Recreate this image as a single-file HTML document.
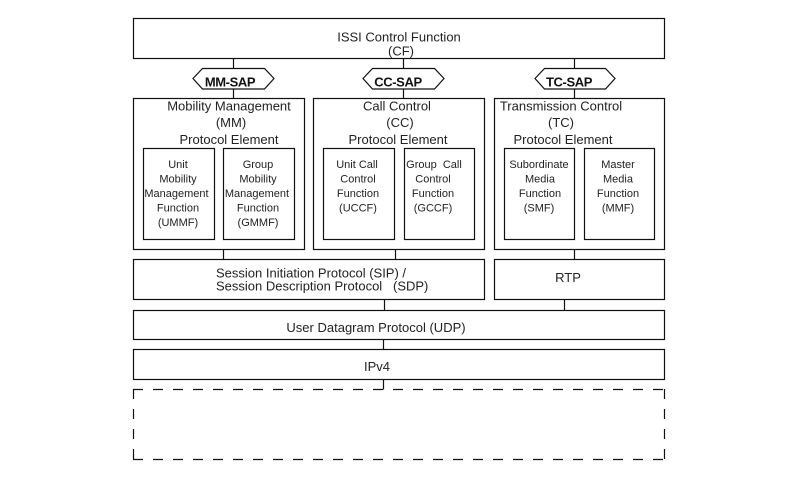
<!DOCTYPE html>
<html><head><meta charset="utf-8"><style>
html,body{margin:0;padding:0;background:#fff;}
svg{display:block;}
text{font-family:"Liberation Sans",Arial,sans-serif;fill:#222;}
.t13{font-size:13px;}
.t11{font-size:11px;}
.b{font-weight:bold;font-size:13px;fill:#111;}
</style></head><body>
<svg width="800" height="480" viewBox="0 0 800 480" xmlns="http://www.w3.org/2000/svg">
<g fill="none" stroke="#111" stroke-width="1.2">
  <!-- CF -->
  <rect x="133.5" y="18.5" width="531" height="40"/>
  <!-- connectors CF to SAPs -->
  <line x1="233.5" y1="58.5" x2="233.5" y2="68.5"/>
  <line x1="403.5" y1="58.5" x2="403.5" y2="68.5"/>
  <line x1="574.5" y1="58.5" x2="574.5" y2="68.5"/>
  <!-- hexagons -->
  <polygon points="193,78.5 202.5,68.5 264.5,68.5 274,78.5 264.5,89 202.5,89"/>
  <polygon points="363,78.5 372.5,68.5 434.5,68.5 444,78.5 434.5,89 372.5,89"/>
  <polygon points="535,78.5 544.5,68.5 605.5,68.5 615,78.5 605.5,89 544.5,89"/>
  <!-- SAP to boxes -->
  <line x1="233.5" y1="89" x2="233.5" y2="98.5"/>
  <line x1="403.5" y1="89" x2="403.5" y2="98.5"/>
  <line x1="574.5" y1="89" x2="574.5" y2="98.5"/>
  <!-- protocol element boxes -->
  <rect x="133.5" y="98.5" width="171" height="151"/>
  <rect x="313.5" y="98.5" width="171" height="151"/>
  <rect x="494.5" y="98.5" width="170" height="151"/>
  <!-- sub boxes -->
  <rect x="143.5" y="148.5" width="71" height="91"/>
  <rect x="223.5" y="148.5" width="71" height="91"/>
  <rect x="323.5" y="148.5" width="71" height="91"/>
  <rect x="404.5" y="148.5" width="70" height="91"/>
  <rect x="504.5" y="148.5" width="70" height="91"/>
  <rect x="584.5" y="148.5" width="70" height="91"/>
  <!-- connectors to SIP/RTP -->
  <line x1="223.5" y1="249.5" x2="223.5" y2="259.5"/>
  <line x1="395.5" y1="249.5" x2="395.5" y2="259.5"/>
  <line x1="574.5" y1="249.5" x2="574.5" y2="259.5"/>
  <!-- SIP, RTP -->
  <rect x="133.5" y="259.5" width="351" height="40"/>
  <rect x="494.5" y="259.5" width="170" height="40"/>
  <line x1="384.5" y1="299.5" x2="384.5" y2="310.5"/>
  <line x1="564.5" y1="299.5" x2="564.5" y2="310.5"/>
  <!-- UDP -->
  <rect x="133.5" y="310.5" width="531" height="29"/>
  <line x1="383.5" y1="339.5" x2="383.5" y2="349.5"/>
  <!-- IPv4 -->
  <rect x="133.5" y="349.5" width="531" height="30"/>
  <line x1="383.5" y1="379.5" x2="383.5" y2="389.5"/>
  <!-- dashed box -->
  <g stroke-dasharray="10,10">
    <line x1="133" y1="389.5" x2="665" y2="389.5"/>
    <line x1="133" y1="459.5" x2="665" y2="459.5"/>
    <line x1="133.5" y1="389" x2="133.5" y2="460"/>
    <line x1="664.5" y1="389" x2="664.5" y2="460"/>
  </g>
</g>

<!-- CF text -->
<text class="t13" x="399" y="41.5" text-anchor="middle">ISSI Control Function</text>
<text class="t13" x="401" y="55.5" text-anchor="middle">(CF)</text>

<!-- SAP labels -->
<text class="b" x="230" y="86.5" text-anchor="middle" letter-spacing="-0.4">MM-SAP</text>
<text class="b" x="398" y="86.5" text-anchor="middle" letter-spacing="-0.4">CC-SAP</text>
<text class="b" x="569" y="86.5" text-anchor="middle" letter-spacing="-0.4">TC-SAP</text>

<!-- MM -->
<text class="t13" x="229" y="110.5" text-anchor="middle">Mobility Management</text>
<text class="t13" x="231" y="127" text-anchor="middle">(MM)</text>
<text class="t13" x="229" y="144" text-anchor="middle">Protocol Element</text>
<!-- CC -->
<text class="t13" x="397" y="110.5" text-anchor="middle">Call Control</text>
<text class="t13" x="400" y="127" text-anchor="middle">(CC)</text>
<text class="t13" x="398" y="144" text-anchor="middle">Protocol Element</text>
<!-- TC -->
<text class="t13" x="561" y="110.5" text-anchor="middle">Transmission Control</text>
<text class="t13" x="561" y="127" text-anchor="middle">(TC)</text>
<text class="t13" x="563" y="144" text-anchor="middle">Protocol Element</text>

<!-- sub boxes text -->
<g class="t11" text-anchor="middle">
  <text class="t11" x="178" y="168">Unit</text>
  <text class="t11" x="178" y="182.5">Mobility</text>
  <text class="t11" x="176.5" y="197">Management</text>
  <text class="t11" x="178" y="211.5">Function</text>
  <text class="t11" x="178" y="226">(UMMF)</text>

  <text class="t11" x="258" y="168">Group</text>
  <text class="t11" x="258" y="182.5">Mobility</text>
  <text class="t11" x="257" y="197">Management</text>
  <text class="t11" x="258" y="211.5">Function</text>
  <text class="t11" x="258" y="226">(GMMF)</text>

  <text class="t11" x="357" y="168">Unit Call</text>
  <text class="t11" x="358" y="182.5">Control</text>
  <text class="t11" x="358" y="197">Function</text>
  <text class="t11" x="358" y="211.5">(UCCF)</text>

  <text class="t11" x="434" y="168" xml:space="preserve">Group  Call</text>
  <text class="t11" x="433" y="182.5">Control</text>
  <text class="t11" x="433" y="197">Function</text>
  <text class="t11" x="433" y="211.5">(GCCF)</text>

  <text class="t11" x="539" y="168">Subordinate</text>
  <text class="t11" x="540" y="182.5">Media</text>
  <text class="t11" x="540" y="197">Function</text>
  <text class="t11" x="539" y="211.5">(SMF)</text>

  <text class="t11" x="618" y="168">Master</text>
  <text class="t11" x="618" y="182.5">Media</text>
  <text class="t11" x="618" y="197">Function</text>
  <text class="t11" x="618" y="211.5">(MMF)</text>
</g>

<!-- SIP -->
<text class="t13" x="216" y="277.5">Session Initiation Protocol (SIP) /</text>
<text class="t13" x="216" y="290.5">Session Description Protocol</text>
<text class="t13" x="393" y="290.5">(SDP)</text>
<!-- RTP -->
<text class="t13" x="568" y="282" text-anchor="middle">RTP</text>
<!-- UDP -->
<text class="t13" x="376" y="332" text-anchor="middle">User Datagram Protocol (UDP)</text>
<!-- IPv4 -->
<text class="t13" x="377" y="371" text-anchor="middle">IPv4</text>
</svg>
</body></html>
